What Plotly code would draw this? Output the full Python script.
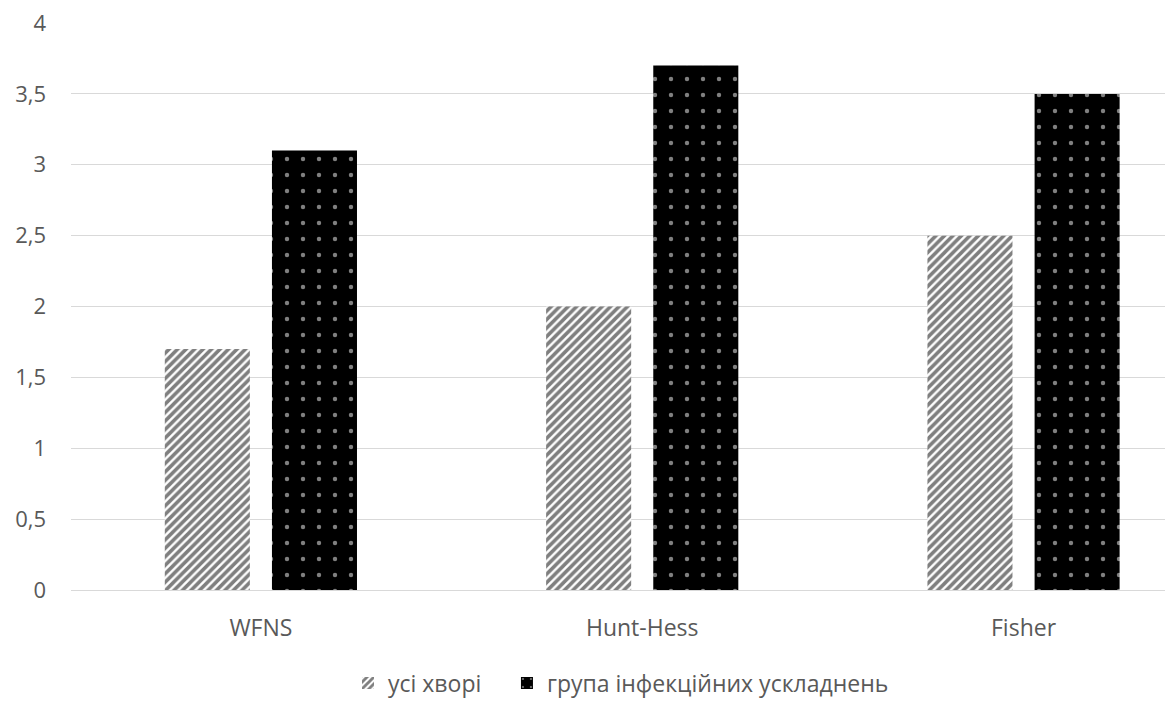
import plotly.graph_objects as go

categories = ["WFNS", "Hunt-Hess", "Fisher"]
all_patients = [1.7, 2.0, 2.5]
infection_group = [3.1, 3.7, 3.5]
series_names = ["усі хворі", "група інфекційних ускладнень"]
y_ticks = [0, 0.5, 1, 1.5, 2, 2.5, 3, 3.5, 4]
y_tick_labels = ["0", "0,5", "1", "1,5", "2", "2,5", "3", "3,5", "4"]

FONT = "Open Sans, Liberation Sans, sans-serif"
GREY = "#595959"

fig = go.Figure()
fig.add_trace(go.Bar(
    x=categories, y=all_patients, name=series_names[0], legend="legend",
    width=0.223, offset=-0.252,
    marker=dict(color="white", line=dict(width=0),
                pattern=dict(shape="/", fgcolor="black", bgcolor="white", size=6, solidity=0.6)),
))
fig.add_trace(go.Bar(
    x=categories, y=infection_group, name=series_names[1], legend="legend2",
    width=0.223, offset=0.029,
    marker=dict(color="black", line=dict(width=0),
                pattern=dict(shape=".", fgcolor="white", bgcolor="black", size=16, solidity=0.06)),
))

legend_style = dict(orientation="h", y=-0.164, yanchor="middle", xanchor="left",
                    font=dict(family=FONT, size=23, color=GREY), itemsizing="constant",
                    bgcolor="rgba(0,0,0,0)")

fig.update_layout(
    width=1167, height=707,
    paper_bgcolor="white", plot_bgcolor="white",
    margin=dict(l=63, r=10, t=15, b=114),
    font=dict(family=FONT, size=22, color=GREY),
    showlegend=True,
    legend=dict(x=0.2532, **legend_style),
    legend2=dict(x=0.3985, **legend_style),
    barmode="overlay",
)
fig.update_xaxes(type="category", range=[-0.498, 2.371], showgrid=False, showline=True,
                 linecolor="#d9d9d9", linewidth=1, ticks="", ticklabelstandoff=17,
                 automargin=False, tickfont=dict(family=FONT, size=23, color=GREY))
fig.update_yaxes(range=[0, 4], tickvals=y_ticks, ticktext=y_tick_labels, showgrid=True,
                 gridcolor="#d9d9d9", gridwidth=1, zeroline=False, showline=False,
                 ticks="", ticklabelstandoff=24, automargin=False, ticklabeloverflow="allow",
                 tickfont=dict(family=FONT, size=22, color=GREY))

fig.write_html("out.html")
